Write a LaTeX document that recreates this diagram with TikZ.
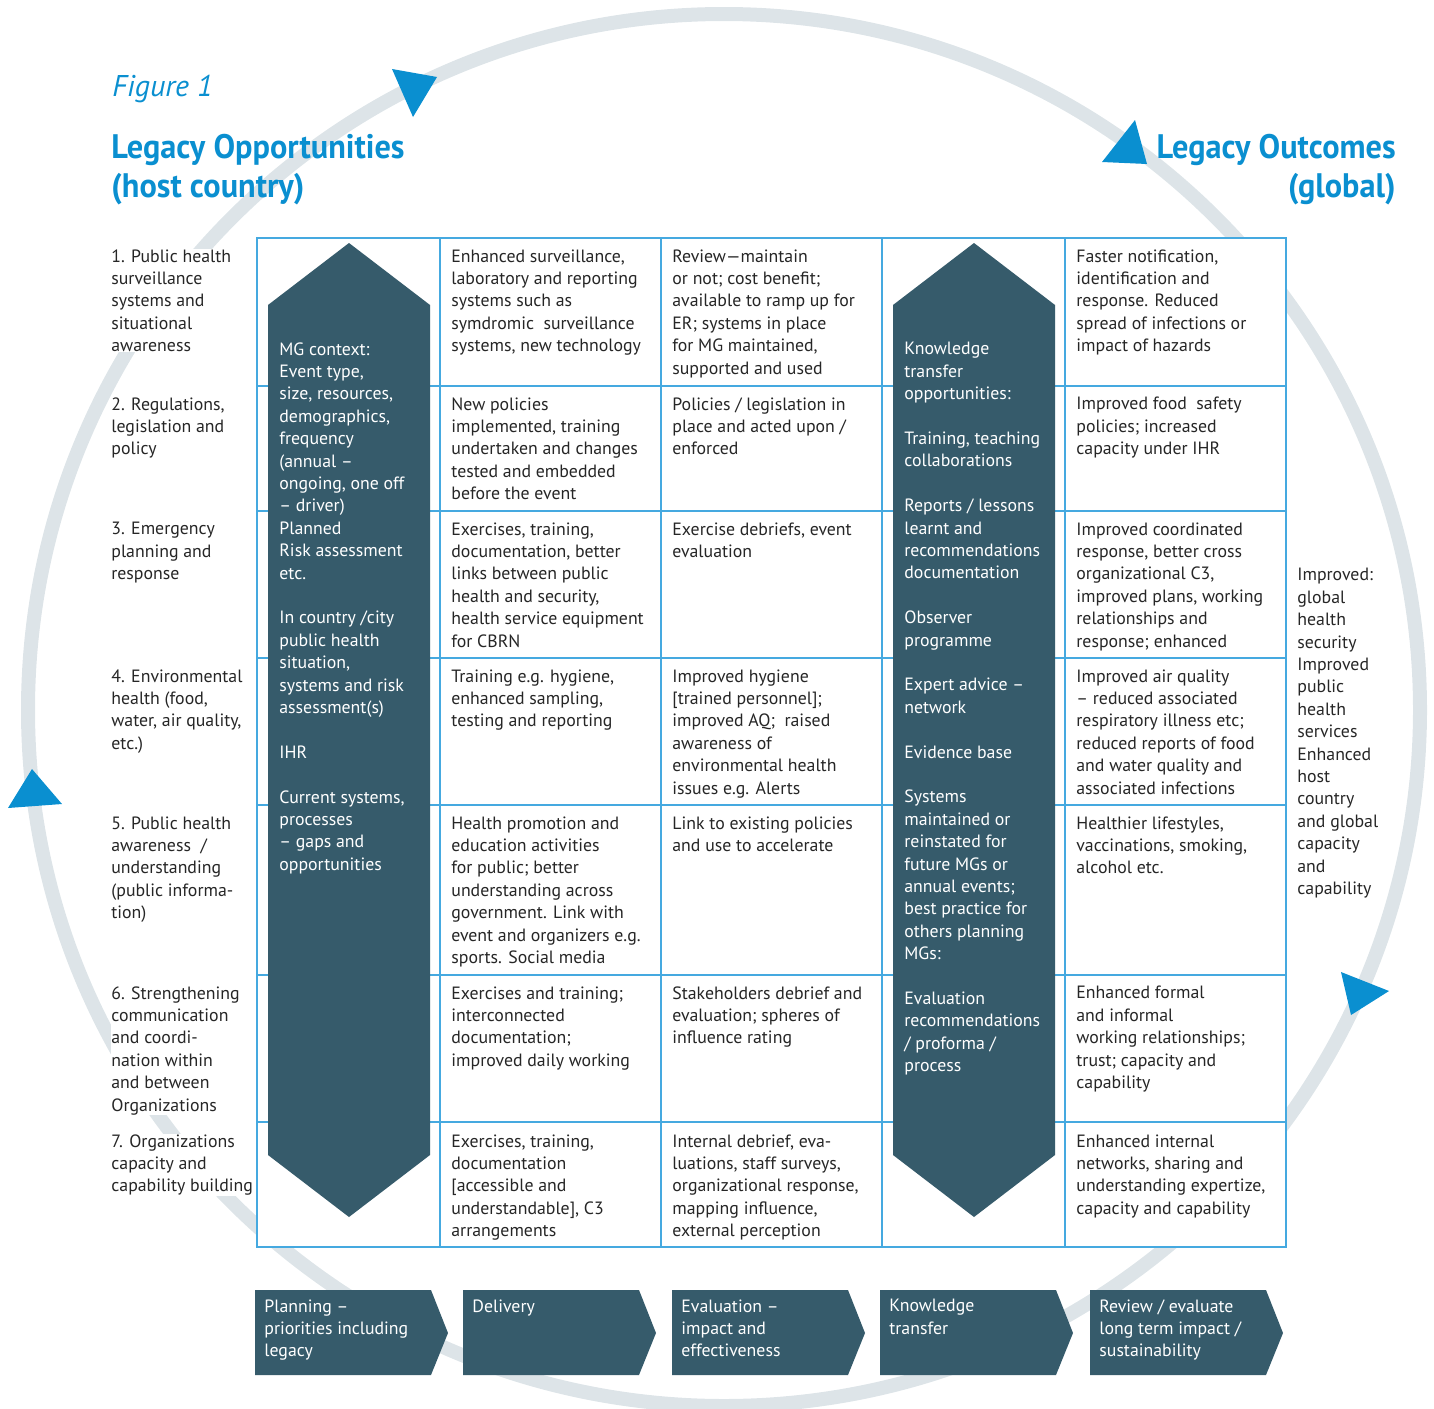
\documentclass[tikz,border=0pt]{standalone}
\usepackage{fontspec}
\setmainfont{PT Sans}
\newfontfamily\titlefont[FakeStretch=0.95]{PT Sans}
\usepackage{tikz}
\usetikzlibrary{positioning}
\definecolor{legblue}{HTML}{0A8FD0}
\definecolor{gridblue}{HTML}{45A9E0}
\definecolor{slate}{HTML}{365B6B}
\definecolor{ringgrey}{HTML}{DDE4E8}
\newcommand{\cellfont}{\fontsize{8.9}{11.2}\selectfont}
\tikzstyle{cell} = [anchor=north west, align=left, inner sep=0pt, font=\cellfont, text=black!85]
\tikzstyle{onslate} = [cell, text=white]
\tikzstyle{rowlabel} = [cell, fill=white]
\tikzstyle{heading} = [inner sep=0pt, text=legblue, font=\titlefont\bfseries\fontsize{17}{19.5}\selectfont]
\tikzstyle{stage} = [fill=slate]
\tikzstyle{pointer} = [fill=legblue]
\tikzstyle{grid} = [draw=gridblue, line width=0.75pt]
\tikzstyle{ring} = [draw=ringgrey, line width=7pt]

\begin{document}
\begin{tikzpicture}[x=0.5pt,y=-0.5pt]
    \useasboundingbox (0,0) rectangle (1434,1408);
    % the cycle behind everything
    \draw[ring] (724,710) circle [radius=696];
    \fill[pointer] (392,69) -- (437,77) -- (413,117) -- cycle;
    \fill[pointer] (1135,120) -- (1147,164) -- (1102,162) -- cycle;
    \fill[pointer] (1341,972) -- (1389,991) -- (1351,1015) -- cycle;
    \fill[pointer] (32,769) -- (62,804) -- (8,808) -- cycle;
    % titles
    \node[anchor=north west, inner sep=0pt, text=legblue, font=\fontsize{15}{18}\selectfont\itshape] (figno) at (112,75) {Figure 1};
    \node[heading, anchor=north west, align=left] (oppo) at (111,134) {Legacy Opportunities\\(host country)};
    \node[heading, anchor=north east, align=right] (outc) at (1396,134) {Legacy Outcomes\\(global)};
    % table
    \fill[white] (257,238) rectangle (1286,1247);
    \draw[grid] (257,238) rectangle (1286,1247);
    \draw[grid] (440,238) -- (440,1247) (661,238) -- (661,1247) (882,238) -- (882,1247) (1065,238) -- (1065,1247);
    \draw[grid] (257,386) -- (1286,386) (257,511) -- (1286,511) (257,658) -- (1286,658);
    \draw[grid] (257,805) -- (1286,805) (257,975) -- (1286,975) (257,1122) -- (1286,1122);
    \fill[stage] (268,305) -- (349,243) -- (430,305) -- (430,1155) -- (349,1217) -- (268,1155) -- cycle;
    \fill[stage] (893,305) -- (974,243) -- (1055,305) -- (1055,1155) -- (974,1217) -- (893,1155) -- cycle;
    % row labels
    \node[rowlabel] (r1) at (111,249) {1. Public health\\surveillance\\systems and\\situational\\awareness};
    \node[rowlabel] (r2) at (111,397) {2. Regulations,\\legislation and\\policy};
    \node[rowlabel] (r3) at (111,522) {3. Emergency\\planning and\\response};
    \node[rowlabel] (r4) at (111,669) {4. Environmental\\health (food,\\water, air quality,\\etc.)};
    \node[rowlabel] (r5) at (111,816) {5. Public health\\awareness~ /\\understanding\\(public informa-\\tion)};
    \node[rowlabel] (r6) at (111,986) {6. Strengthening\\communication\\and coordi-\\nation within\\and between\\Organizations};
    \node[rowlabel] (r7) at (111,1134) {7. Organizations\\capacity and\\capability building};
    % MG context column
    \node[onslate] (mg) at (279,342) {MG context:\\Event type,\\size, resources,\\demographics,\\frequency\\(annual –\\ongoing, one off\\– driver)\\Planned\\Risk assessment\\etc.\\[11.2pt]In country /city\\public health\\situation,\\systems and risk\\assessment(s)\\[11.2pt]IHR\\[11.2pt]Current systems,\\processes\\– gaps and\\opportunities};
    % delivery column
    \node[cell] (d1) at (451,249) {Enhanced surveillance,\\laboratory and reporting\\systems such as\\symdromic~ surveillance\\systems, new technology};
    \node[cell] (d2) at (451,397) {New policies\\implemented, training\\undertaken and changes\\tested and embedded\\before the event};
    \node[cell] (d3) at (451,522) {Exercises, training,\\documentation, better\\links between public\\health and security,\\health service equipment\\for CBRN};
    \node[cell] (d4) at (451,669) {Training e.g. hygiene,\\enhanced sampling,\\testing and reporting};
    \node[cell] (d5) at (451,816) {Health promotion and\\education activities\\for public; better\\understanding across\\government. Link with\\event and organizers e.g.\\sports. Social media};
    \node[cell] (d6) at (451,986) {Exercises and training;\\interconnected\\documentation;\\improved daily working};
    \node[cell] (d7) at (451,1134) {Exercises, training,\\documentation\\{[}accessible and\\understandable], C3\\arrangements};
    % evaluation column
    \node[cell] (e1) at (672,249) {Review—maintain\\or not; cost benefit;\\available to ramp up for\\ER; systems in place\\for MG maintained,\\supported and used};
    \node[cell] (e2) at (672,397) {Policies / legislation in\\place and acted upon /\\enforced};
    \node[cell] (e3) at (672,522) {Exercise debriefs, event\\evaluation};
    \node[cell] (e4) at (672,669) {Improved hygiene\\{[}trained personnel];\\improved AQ;~ raised\\awareness of\\environmental health\\issues e.g. Alerts};
    \node[cell] (e5) at (672,816) {Link to existing policies\\and use to accelerate};
    \node[cell] (e6) at (672,986) {Stakeholders debrief and\\evaluation; spheres of\\influence rating};
    \node[cell] (e7) at (672,1134) {Internal debrief, eva-\\luations, staff surveys,\\organizational response,\\mapping influence,\\external perception};
    % knowledge transfer column
    \node[onslate] (kt) at (904,342) {Knowledge\\transfer\\opportunities:\\[11.2pt]Training, teaching\\collaborations\\[11.2pt]Reports / lessons\\learnt and\\recommendations\\documentation\\[11.2pt]Observer\\programme\\[11.2pt]Expert advice –\\network\\[11.2pt]Evidence base\\[11.2pt]Systems\\maintained or\\reinstated for\\future MGs or\\annual events;\\best practice for\\others planning\\MGs:\\[11.2pt]Evaluation\\recommendations\\/ proforma /\\process};
    % outcomes column
    \node[cell] (o1) at (1076,249) {Faster notification,\\identification and\\response. Reduced\\spread of infections or\\impact of hazards};
    \node[cell] (o2) at (1076,397) {Improved food~ safety\\policies; increased\\capacity under IHR};
    \node[cell] (o3) at (1076,522) {Improved coordinated\\response, better cross\\organizational C3,\\improved plans, working\\relationships and\\response; enhanced};
    \node[cell] (o4) at (1076,669) {Improved air quality\\– reduced associated\\respiratory illness etc;\\reduced reports of food\\and water quality and\\associated infections};
    \node[cell] (o5) at (1076,816) {Healthier lifestyles,\\vaccinations, smoking,\\alcohol etc.};
    \node[cell] (o6) at (1076,986) {Enhanced formal\\and informal\\working relationships;\\trust; capacity and\\capability};
    \node[cell] (o7) at (1076,1134) {Enhanced internal\\networks, sharing and\\understanding expertize,\\capacity and capability};
    \node[cell] (gain) at (1297,568) {Improved:\\global\\health\\security\\Improved\\public\\health\\services\\Enhanced\\host\\country\\and global\\capacity\\and\\capability};
    % stages along the bottom
    \fill[stage] (255,1290) -- (431,1290) -- (448,1333) -- (431,1375) -- (255,1375) -- cycle;
    \fill[stage] (463,1290) -- (639,1290) -- (656,1333) -- (639,1375) -- (463,1375) -- cycle;
    \fill[stage] (672,1290) -- (848,1290) -- (865,1333) -- (848,1375) -- (672,1375) -- cycle;
    \fill[stage] (880,1290) -- (1056,1290) -- (1073,1333) -- (1056,1375) -- (880,1375) -- cycle;
    \fill[stage] (1090,1290) -- (1266,1290) -- (1283,1333) -- (1266,1375) -- (1090,1375) -- cycle;
    \node[onslate] (s1) at (264,1299) {Planning –\\priorities including\\legacy};
    \node[onslate] (s2) at (472,1299) {Delivery};
    \node[onslate] (s3) at (681,1299) {Evaluation –\\impact and\\effectiveness};
    \node[onslate] (s4) at (889,1299) {Knowledge\\transfer};
    \node[onslate] (s5) at (1099,1299) {Review / evaluate\\long term impact /\\sustainability};
\end{tikzpicture}
\end{document}
